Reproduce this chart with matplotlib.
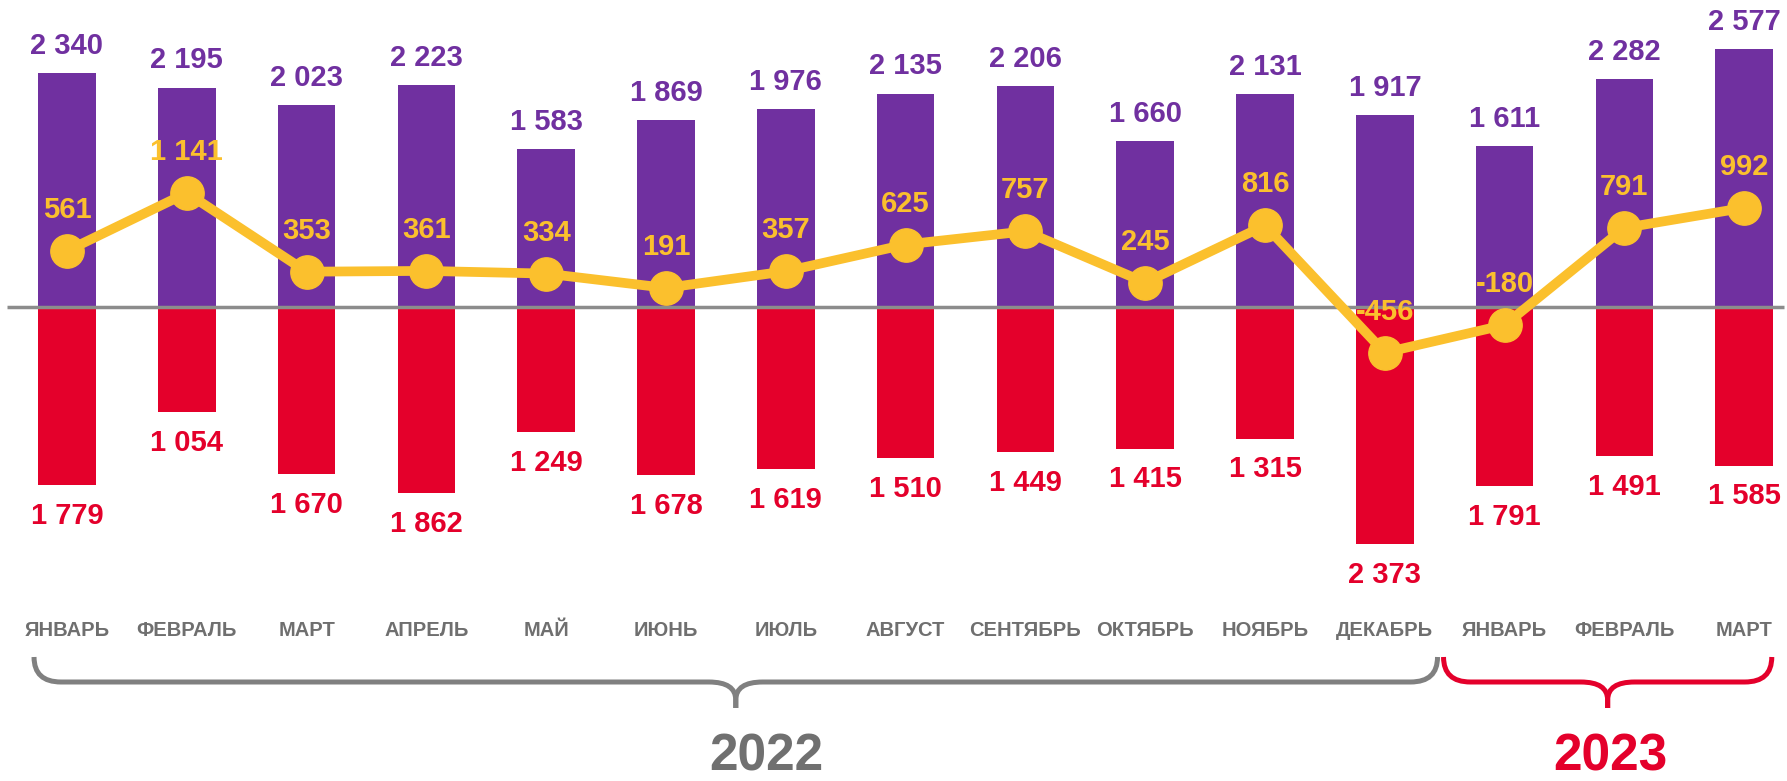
import matplotlib.pyplot as plt
from matplotlib.path import Path
from matplotlib.patches import PathPatch

# data
months = ['ЯНВАРЬ', 'ФЕВРАЛЬ', 'МАРТ', 'АПРЕЛЬ', 'МАЙ', 'ИЮНЬ', 'ИЮЛЬ', 'АВГУСТ',
          'СЕНТЯБРЬ', 'ОКТЯБРЬ', 'НОЯБРЬ', 'ДЕКАБРЬ', 'ЯНВАРЬ', 'ФЕВРАЛЬ', 'МАРТ']
inflow = [2340, 2195, 2023, 2223, 1583, 1869, 1976, 2135, 2206, 1660, 2131, 1917, 1611, 2282, 2577]
outflow = [1779, 1054, 1670, 1862, 1249, 1678, 1619, 1510, 1449, 1415, 1315, 2373, 1791, 1491, 1585]
net = [561, 1141, 353, 361, 334, 191, 357, 625, 757, 245, 816, -456, -180, 791, 992]
years = ['2022', '2023']

purple = '#7030A0'
red = '#E4002B'
yellow = '#FBC02D'
gray = '#6F6F6F'

def fmt(v):
    return '{:,}'.format(v).replace(',', ' ')

fig = plt.figure(figsize=(17.87, 7.81), dpi=100)
ax = fig.add_axes([0, 0, 1, 1])
ax.set_xlim(-0.559, 14.357)
ax.set_ylim(-4740, 3070)
ax.axis('off')

x = list(range(len(months)))
ax.bar(x, inflow, width=0.48, color=purple, zorder=1)
ax.bar(x, [-v for v in outflow], width=0.48, color=red, zorder=1)
ax.hlines(0, -0.5, 14.33, color='#8C8C8C', lw=2.5, zorder=2)
ax.plot(x, net, color=yellow, lw=7, marker='o', ms=24, zorder=3)

lab_font = dict(family=['Liberation Sans', 'DejaVu Sans'], fontweight='bold', fontsize=21)
for i in x:
    ax.annotate(fmt(inflow[i]), (i, inflow[i]), xytext=(0, 19.5), textcoords='offset points',
                ha='center', va='center', color=purple, **lab_font)
    ax.annotate(fmt(outflow[i]), (i, -outflow[i]), xytext=(0, -22.3), textcoords='offset points',
                ha='center', va='center', color=red, **lab_font)
    ax.annotate(fmt(net[i]), (i, net[i]), xytext=(0, 29.5), textcoords='offset points',
                ha='center', va='center', color=yellow, zorder=4, **lab_font)
    ax.text(i, -3240, months[i], ha='center', va='center', fontsize=14.5, fontweight='bold',
            family=['Liberation Sans Narrow', 'Liberation Sans'], color=gray)

def brace(x0, x1, color):
    y_top, y_mid, y_tip = -3500, -3750, -4010
    rx, ry = 0.225, 180
    xc = (x0 + x1) / 2
    codes = [Path.MOVETO, Path.CURVE3, Path.CURVE3, Path.LINETO,
             Path.CURVE3, Path.CURVE3, Path.LINETO]
    for a, s in [(x0, 1), (x1, -1)]:
        verts = [(a, y_top), (a, y_mid), (a + s * rx, y_mid), (xc - s * rx, y_mid),
                 (xc, y_mid), (xc, y_mid - ry), (xc, y_tip)]
        ax.add_patch(PathPatch(Path(verts, codes), fill=False, edgecolor=color,
                               lw=3.6, capstyle='butt'))

brace(-0.275, 11.44, '#808080')
brace(11.49, 14.23, red)

ax.text(5.835, -4500, years[0], ha='center', va='center', fontsize=37, fontweight='bold',
        family=['Liberation Sans', 'DejaVu Sans'], color='#707070')
ax.text(12.88, -4500, years[1], ha='center', va='center', fontsize=37, fontweight='bold',
        family=['Liberation Sans', 'DejaVu Sans'], color=red)

plt.savefig('out.png', dpi=100)
